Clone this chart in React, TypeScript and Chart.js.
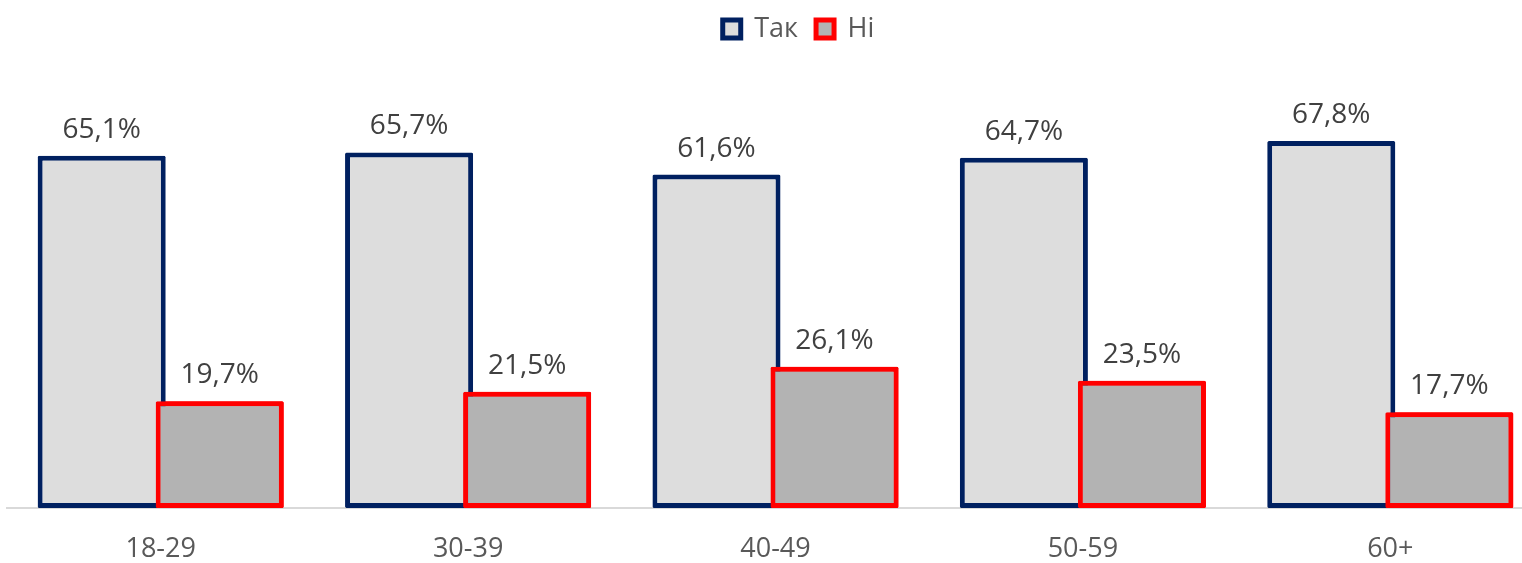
import React, { useEffect, useRef } from "react";
import { Chart, registerables } from "chart.js";

Chart.register(...registerables);

const categories = ["18-29", "30-39", "40-49", "50-59", "60+"];
const yesValues = [65.1, 65.7, 61.6, 64.7, 67.8];
const noValues = [19.7, 21.5, 26.1, 23.5, 17.7];
const seriesNames = ["Так", "Ні"];

const FONT = "'Open Sans', sans-serif";

const barLabelsPlugin = {
  id: "barLabels",
  afterDatasetsDraw(chart: any) {
    const ctx = chart.ctx;
    // redraw second series so it sits on top of the first where they overlap
    const meta1 = chart.getDatasetMeta(1);
    ctx.save();
    meta1.data.forEach((el: any) => el.draw(ctx, chart.chartArea));
    ctx.restore();

    ctx.save();
    ctx.font = `28px ${FONT}`;
    ctx.fillStyle = "#404040";
    ctx.textAlign = "center";
    ctx.textBaseline = "alphabetic";
    chart.data.datasets.forEach((ds: any, i: number) => {
      const meta = chart.getDatasetMeta(i);
      meta.data.forEach((bar: any, j: number) => {
        const v = ds.data[j] as number;
        ctx.fillText(v.toFixed(1).replace(".", ",") + "%", bar.x, bar.y - 18);
      });
    });
    ctx.restore();
  },
};

const legendShiftPlugin = {
  id: "legendShift",
  afterLayout(chart: any) {
    const l = chart.legend;
    if (l) {
      l.left += 23;
      l.right += 23;
      l.top -= 22.5;
      l.bottom -= 22.5;
    }
  },
};

export default function App() {
  const canvasRef = useRef<HTMLCanvasElement | null>(null);

  useEffect(() => {
    if (!canvasRef.current) return;
    const chart = new Chart(canvasRef.current, {
      type: "bar",
      data: {
        labels: categories,
        datasets: [
          {
            label: seriesNames[0],
            data: yesValues,
            backgroundColor: "#DDDDDD",
            borderColor: "#002060",
            borderWidth: 5,
            borderSkipped: false,
            borderRadius: 1.5,
            barPercentage: 1.085,
            categoryPercentage: 0.768,
          },
          {
            label: seriesNames[1],
            data: noValues,
            backgroundColor: "#B3B3B3",
            borderColor: "#FF0000",
            borderWidth: 5,
            borderSkipped: false,
            borderRadius: 1.5,
            barPercentage: 1.085,
            categoryPercentage: 0.768,
          },
        ],
      },
      options: {
        responsive: false,
        animation: false,
        layout: { padding: { left: 7, right: 16, top: 20, bottom: 0 } },
        plugins: {
          legend: {
            display: true,
            position: "top",
            labels: {
              boxWidth: 18,
              boxHeight: 18,
              padding: 18,
              color: "#595959",
              font: { family: FONT, size: 27 },
            },
          },
          tooltip: { enabled: false },
        },
        scales: {
          x: {
            grid: { display: false, drawTicks: false },
            border: { display: true, color: "#D9D9D9", width: 2 },
            ticks: {
              color: "#595959",
              font: { family: FONT, size: 27 },
              padding: 25,
            },
            afterFit: (scale: any) => {
              scale.height = 55;
            },
          },
          y: {
            display: false,
            min: 0,
            max: 80,
          },
        },
      },
      plugins: [barLabelsPlugin, legendShiftPlugin],
    });
    return () => chart.destroy();
  }, []);

  return (
    <div
      style={{
        position: "absolute",
        left: 0,
        top: 0,
        width: 1522,
        height: 563,
        overflow: "hidden",
        background: "#FFFFFF",
      }}
    >
      <canvas
        ref={canvasRef}
        width={1560}
        height={563}
        style={{ width: 1560, height: 563, display: "block" }}
      />
    </div>
  );
}
